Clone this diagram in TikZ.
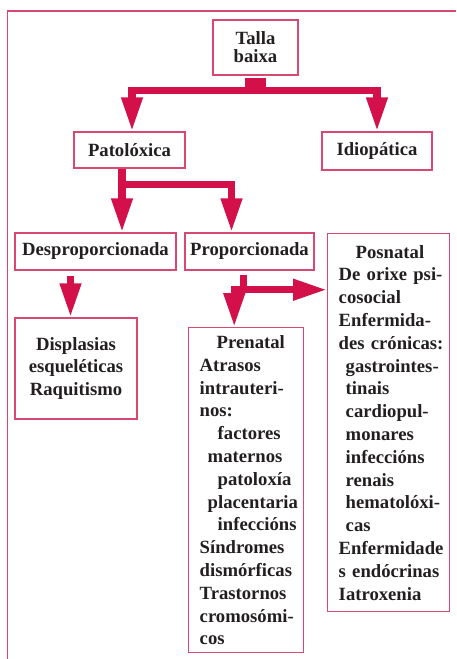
\documentclass[tikz,border=0pt]{standalone}
\usepackage{fontspec}
\setmainfont{Liberation Serif}
\usetikzlibrary{arrows.meta,calc}
\definecolor{crimson}{RGB}{212,16,74}
\definecolor{boxpink}{RGB}{216,72,112}
\definecolor{inkgray}{RGB}{35,31,32}
\begin{document}
\begin{tikzpicture}[x=0.75pt,y=0.75pt,yscale=-1,xscale=1,
    box/.style={draw=boxpink, line width=1.1pt, inner sep=0pt, text=inkgray, font=\bfseries\fontsize{14}{17.1}\selectfont, align=center},
    tallbox/.style={box, anchor=north west, inner xsep=8.25pt, align=left,
        execute at begin node={\hyphenpenalty=10000 \exhyphenpenalty=10000 }},
    conn/.style={draw=crimson, line width=5.4pt, line join=miter},
    bigtip/.tip={Triangle[length=25.5pt,width=15pt]}]
    \useasboundingbox (0,0) rectangle (456,659);
    %Frame
    \draw [draw=boxpink, line width=1.1pt] (7.5,659) -- (7.5,11) -- (456,11) ;

    % Text Node
    \node [box, minimum width=63.75pt, minimum height=41.25pt, font=\bfseries\fontsize{14}{13.5}\selectfont] (talla) at (255.5,47.5) {Talla\\baixa};
    % Text Node
    \node [box, minimum width=83.25pt, minimum height=27pt] (patol) at (129.5,150) {Patolóxica};
    % Text Node
    \node [box, minimum width=82.5pt, minimum height=28.5pt] (idio) at (377,151) {Idiopática};
    % Text Node
    \node [box, minimum width=120.75pt, minimum height=27.75pt] (despro) at (95.5,251.5) {Desproporcionada};
    % Text Node
    \node [box, minimum width=96.75pt, minimum height=27.75pt] (propo) at (249.5,251.5) {Proporcionada};
    % Text Node
    \node [box, minimum width=91.5pt, minimum height=75.75pt] (displ) at (76,368.5) {Displasias\\esqueléticas\\Raquitismo};
    % Text Node
    \node [tallbox, text width=69.75pt, minimum width=86.25pt, minimum height=243.75pt] (pren) at (188,327) {\hspace*{12.75pt}Prenatal\\
        Atrasos\\
        intrauteri-\\
        nos:\\
        \hspace*{13.5pt}factores\\
        \hspace*{6pt}maternos\\
        \hspace*{13.5pt}patoloxía\\
        \hspace*{6pt}placentaria\\
        \hspace*{13.5pt}infeccións\\
        Síndromes\\
        dismórficas\\
        Trastornos\\
        cromosómi-\\
        cos};
    % Text Node
    \node [tallbox, text width=75pt, minimum width=91.5pt, minimum height=283.5pt] (posn) at (327,233) {\hspace*{12.75pt}Posnatal\\
        De~orixe~psi-\\
        cosocial\\
        Enfermida-\\
        des~crónicas:\\
        \hspace*{5.25pt}gastrointes-\\
        \hspace*{5.25pt}tinais\\
        \hspace*{5.25pt}cardiopul-\\
        \hspace*{5.25pt}monares\\
        \hspace*{5.25pt}infeccións\\
        \hspace*{5.25pt}renais\\
        \hspace*{5.25pt}hematolóxi-\\
        \hspace*{5.25pt}cas\\
        Enfermidade\\
        s~endócrinas\\
        Iatroxenia};

    %Talla baixa connector
    \coordinate (tbar) at ($(talla.south)+(0,14.5)$);
    \coordinate (tl) at ($(patol.north)+(2.5,0)$);
    \fill [crimson] ($(talla.south)+(-10.5,2)$) rectangle ($(talla.south)+(10.5,14.5)$) ;
    \draw [conn, bigtip-bigtip] (tl) -- (tl |- tbar) -- (idio.north |- tbar) -- (idio.north) ;
    %Patolóxica connector
    \coordinate (pl) at ($(patol.south)+(-7.5,0)$);
    \coordinate (pbar) at ($(patol.south)+(0,15.5)$);
    \coordinate (pr) at ($(propo.north)+(-18,0)$);
    \draw [conn] (pl) -- (pl |- pbar) ;
    \draw [conn, bigtip-bigtip] (pl |- despro.north) -- (pl |- pbar) -- (pr |- pbar) -- (pr) ;
    %Desproporcionada connector
    \coordinate (dl) at ($(despro.south)+(-25,5)$);
    \draw [conn, -bigtip] (dl) -- (dl |- displ.north) ;
    %Proporcionada connector
    \coordinate (sb) at ($(propo.south)+(-6,4)$);
    \coordinate (sbar) at ($(propo.south)+(0,19)$);
    \coordinate (sd) at ($(pren.north)+(-12,0)$);
    \draw [conn] (sb) -- (sb |- sbar) ;
    \draw [conn, bigtip-bigtip] (sd) -- (sd |- sbar) -- (sbar -| posn.west) ;
\end{tikzpicture}
\end{document}
